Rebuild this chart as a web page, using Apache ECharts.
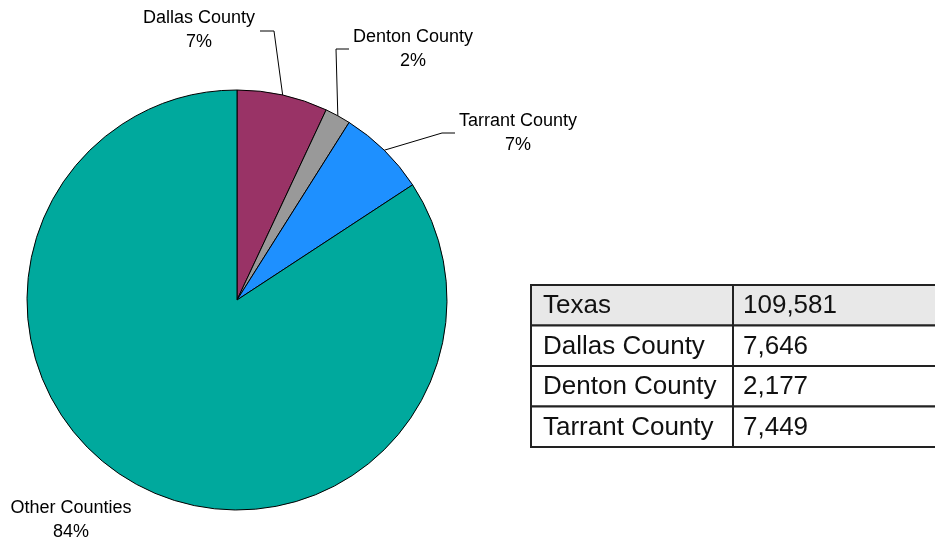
<!DOCTYPE html>
<html>
<head>
<meta charset="utf-8">
<script src="https://cdn.jsdelivr.net/npm/echarts@6/dist/echarts.min.js"></script>
<style>
    html, body { margin: 0; padding: 0; background: #fff; }
    #chart { width: 935px; height: 542px; }
</style>
</head>
<body>
<div id="chart"></div>
<script>
// counts shown in the table
var regionNames = ['Dallas County', 'Denton County', 'Tarrant County'];
var regionCounts = [7646, 2177, 7449];
var stateName = 'Texas';
var stateTotal = 109581;
var otherName = 'Other Counties';
var sliceColors = ['#993366', '#999999', '#1e90ff', '#00a99d'];

// where each slice label sits, and where its leader line bends / ends
var labelSpots = [
    {x: 199, y: 30, bend: [274, 31], end: [260, 31]},
    {x: 413, y: 49, bend: [336, 49], end: [349, 49]},
    {x: 518, y: 133, bend: [442, 133], end: [455, 133]},
    {x: 71, y: 520}
];

var otherCount = stateTotal - regionCounts.reduce(function (a, b) { return a + b; }, 0);

var pieData = regionNames.map(function (name, i) {
    return {name: name, value: regionCounts[i]};
});
pieData.push({name: otherName, value: otherCount, labelLine: {show: false}});

var font = '"Liberation Sans", Arial, sans-serif';

// table drawn as graphic cells
function buildTable() {
    var rows = [[stateName, stateTotal]];
    for (var i = 0; i < regionNames.length; i++) {
        rows.push([regionNames[i], regionCounts[i]]);
    }
    var left = 531, top = 285, rowH = 40.5, col1 = 202, col2 = 220;
    var els = [];
    rows.forEach(function (row, i) {
        var y = top + i * rowH;
        var fill = i === 0 ? '#e8e8e8' : '#fff';
        els.push({type: 'rect', shape: {x: left, y: y, width: col1, height: rowH},
            style: {fill: fill, stroke: '#222', lineWidth: 2}});
        els.push({type: 'rect', shape: {x: left + col1, y: y, width: col2, height: rowH},
            style: {fill: fill, stroke: '#222', lineWidth: 2}});
        els.push({type: 'text', style: {text: row[0], x: left + 12, y: y + rowH / 2 + 1,
            font: '26px ' + font, fill: '#111', verticalAlign: 'middle'}});
        els.push({type: 'text', style: {text: row[1].toLocaleString('en-US'), x: left + col1 + 10,
            y: y + rowH / 2 + 1, font: '26px ' + font, fill: '#111', verticalAlign: 'middle'}});
    });
    return els;
}

var chart = echarts.init(document.getElementById('chart'));
chart.setOption({
    animation: false,
    color: sliceColors,
    series: [{
        type: 'pie',
        center: [237, 300],
        radius: 210,
        startAngle: 90,
        clockwise: true,
        percentPrecision: 0,
        data: pieData,
        itemStyle: {borderColor: '#000', borderWidth: 1},
        emphasis: {disabled: true},
        label: {
            formatter: '{b}\n{d}%',
            color: '#000',
            fontSize: 18,
            lineHeight: 24,
            fontFamily: font,
            align: 'center',
            overflow: 'none'
        },
        labelLine: {show: true, lineStyle: {color: '#000', width: 1}},
        labelLayout: function (params) {
            var spot = labelSpots[params.dataIndex];
            var out = {x: spot.x, y: spot.y, align: 'center', verticalAlign: 'middle'};
            if (spot.bend && params.labelLinePoints) {
                out.labelLinePoints = [params.labelLinePoints[0], spot.bend, spot.end];
            }
            return out;
        }
    }],
    graphic: buildTable()
});
</script>
</body>
</html>
